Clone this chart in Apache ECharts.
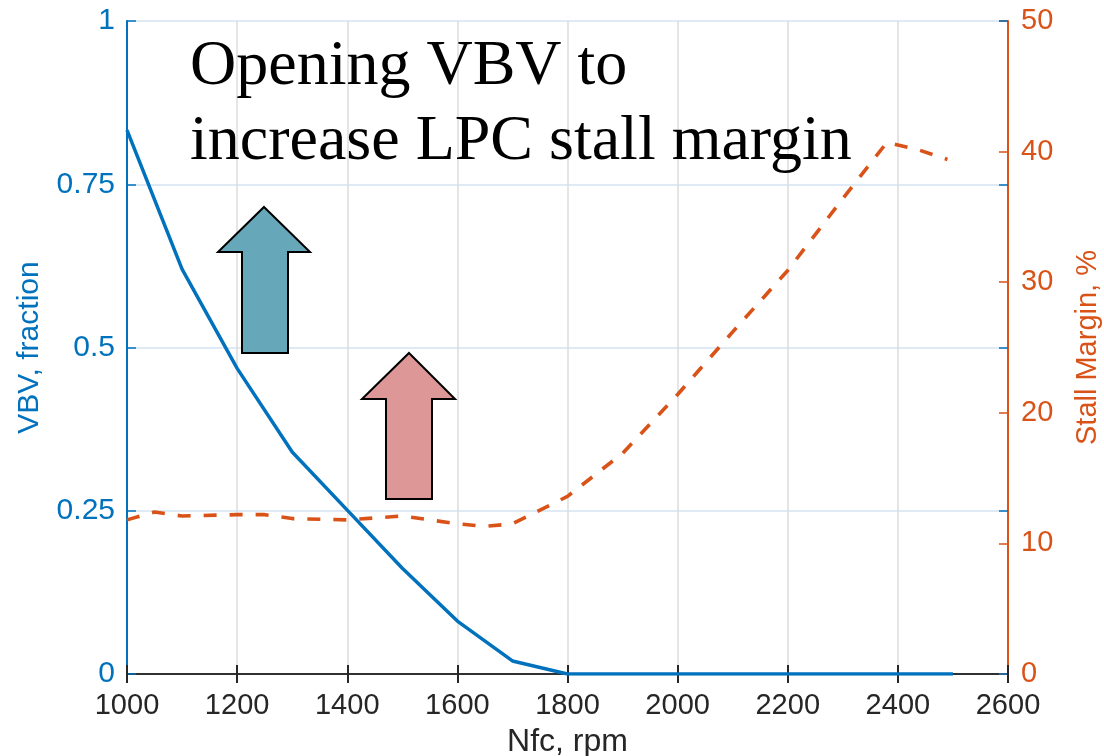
<!DOCTYPE html>
<html>
<head>
<meta charset="utf-8">
<title>VBV schedule and LPC stall margin</title>
<script src="https://cdn.jsdelivr.net/npm/echarts@6/dist/echarts.min.js"></script>
<style>
  html, body { margin: 0; padding: 0; background: #ffffff; }
  #chart { width: 1104px; height: 756px; }
</style>
</head>
<body>
<div id="chart"></div>
<script>
// Fan speed (rpm) and variable bleed valve opening fraction
const vbvSpeed = [1000, 1100, 1200, 1300, 1400, 1500, 1600, 1700, 1800, 1900, 2000, 2100, 2200, 2300, 2400, 2500];
const vbvFraction = [0.833, 0.62, 0.468, 0.34, 0.251, 0.162, 0.081, 0.02, 0, 0, 0, 0, 0, 0, 0, 0];

// Fan speed (rpm) and LPC stall margin (%)
const smSpeed = [1000, 1050, 1100, 1200, 1250, 1300, 1400, 1500, 1600, 1650, 1700, 1800, 1900, 2000, 2100, 2200, 2300, 2380, 2400, 2440, 2490];
const stallMargin = [11.8, 12.4, 12.1, 12.2, 12.2, 11.9, 11.8, 12.1, 11.5, 11.3, 11.5, 13.6, 16.9, 21.4, 26.2, 30.9, 36.4, 40.7, 40.5, 40.1, 39.4];

// Axis ranges and tick steps
const xRange = [1000, 2600, 200];
const vbvRange = [0, 1, 0.25];
const smRange = [0, 50, 10];

const titleLines = ['Opening VBV to', 'increase LPC stall margin'];

const BLUE = '#0072BD';
const ORANGE = '#D95319';
const DARK = '#262626';
const SANS = '"Liberation Sans", Arial, Helvetica, sans-serif';

const zip = (xs, ys) => xs.map((x, i) => [x, ys[i]]);

const chart = echarts.init(document.getElementById('chart'), null, { renderer: 'canvas' });

function vbvLabel(v) {
  if (v === 0) return '0';
  if (v === 1) return '1';
  return String(+v.toFixed(2));
}

const option = {
  animation: false,
  backgroundColor: '#ffffff',
  grid: { left: 127, right: 96, top: 21, bottom: 82, containLabel: false, outerBoundsMode: 'none' },
  xAxis: [
    {
      type: 'value', position: 'bottom',
      min: xRange[0], max: xRange[1], interval: xRange[2],
      name: 'Nfc, rpm', nameLocation: 'middle', nameGap: 52,
      nameTextStyle: { color: DARK, fontSize: 32, fontFamily: SANS },
      axisLine: { show: true, lineStyle: { color: DARK, width: 1.5 } },
      axisTick: { show: true, inside: true, length: 9, lineStyle: { color: DARK, width: 2 } },
      axisLabel: { color: DARK, fontSize: 29, fontFamily: SANS, margin: 17, formatter: v => String(v) },
      splitLine: { show: true, lineStyle: { color: '#dcdcdc', width: 1.5 } }
    },
    {
      type: 'value', position: 'top',
      min: xRange[0], max: xRange[1], interval: xRange[2],
      axisLine: { show: true, lineStyle: { color: DARK, width: 1.5 } },
      axisTick: { show: true, inside: true, length: 9, lineStyle: { color: DARK, width: 2 } },
      axisLabel: { show: false },
      splitLine: { show: false }
    }
  ],
  yAxis: [
    {
      type: 'value', position: 'left',
      min: vbvRange[0], max: vbvRange[1], interval: vbvRange[2],
      name: 'VBV, fraction', nameLocation: 'middle', nameGap: 82,
      nameTextStyle: { color: BLUE, fontSize: 30, fontFamily: SANS },
      axisLine: { show: true, lineStyle: { color: BLUE, width: 2 } },
      axisTick: { show: true, inside: true, length: 9, lineStyle: { color: BLUE, width: 1.5 } },
      axisLabel: { color: BLUE, fontSize: 30, fontFamily: SANS, margin: 12, formatter: vbvLabel },
      splitLine: { show: true, lineStyle: { color: '#d3e5f3', width: 1.5 } }
    },
    {
      type: 'value', position: 'right',
      min: smRange[0], max: smRange[1], interval: smRange[2],
      name: 'Stall Margin, %', nameLocation: 'middle', nameGap: 65,
      nameRotate: 90,
      nameTextStyle: { color: ORANGE, fontSize: 29, fontFamily: SANS },
      axisLine: { show: true, lineStyle: { color: ORANGE, width: 2 } },
      axisTick: { show: true, inside: true, length: 9, lineStyle: { color: ORANGE, width: 1.5 } },
      axisLabel: { color: ORANGE, fontSize: 29, fontFamily: SANS, margin: 13 },
      splitLine: { show: false }
    },
    {
      // left-axis ticks repeated on the right edge of the box
      type: 'value', position: 'right',
      min: vbvRange[0], max: vbvRange[1], interval: vbvRange[2],
      axisLine: { show: false },
      axisTick: { show: true, inside: true, length: 9, lineStyle: { color: BLUE, width: 1.5 } },
      axisLabel: { show: false },
      splitLine: { show: false }
    }
  ],
  series: [
    {
      name: 'VBV', type: 'line', xAxisIndex: 0, yAxisIndex: 0,
      data: zip(vbvSpeed, vbvFraction),
      showSymbol: false, symbol: 'none',
      lineStyle: { color: BLUE, width: 3.5 },
      z: 3
    },
    {
      name: 'Stall Margin', type: 'line', xAxisIndex: 0, yAxisIndex: 1,
      data: zip(smSpeed, stallMargin),
      showSymbol: false, symbol: 'none',
      lineStyle: { color: ORANGE, width: 3.6, type: [13, 13] },
      z: 3
    }
  ],
  graphic: [
    {
      type: 'text', left: 190, top: 30, z: 10,
      style: {
        text: titleLines.join('\n'),
        font: '64px "Liberation Serif", "Times New Roman", serif',
        fill: '#000000',
        lineHeight: 75
      }
    },
    {
      // teal up-arrow
      type: 'polygon', z: 10,
      shape: { points: [[264, 207], [310, 252], [288, 252], [288, 353], [242, 353], [242, 252], [218, 252]] },
      style: { fill: '#66A8B9', stroke: '#000000', lineWidth: 2 }
    },
    {
      // pink up-arrow
      type: 'polygon', z: 10,
      shape: { points: [[409, 353], [455, 399], [432, 399], [432, 499], [386, 499], [386, 399], [362, 399]] },
      style: { fill: '#DD9797', stroke: '#000000', lineWidth: 2 }
    }
  ]
};

chart.setOption(option);
</script>
</body>
</html>
